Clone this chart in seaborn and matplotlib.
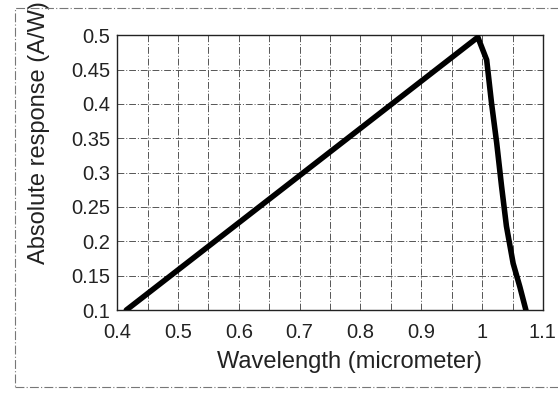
import numpy as np
import pandas as pd
import matplotlib
matplotlib.use("Agg")
import matplotlib.pyplot as plt
import seaborn as sns
from matplotlib.patches import Rectangle

# Values
wavelength = [0.415, 0.993, 1.0075, 1.0155, 1.024, 1.032, 1.040, 1.051, 1.062, 1.072]
response = [0.100, 0.497, 0.464, 0.401, 0.343, 0.280, 0.222, 0.168, 0.134, 0.100]

x_ticks = [0.4, 0.5, 0.6, 0.7, 0.8, 0.9, 1.0, 1.1]
x_tick_labels = ["0.4", "0.5", "0.6", "0.7", "0.8", "0.9", "1", "1.1"]
y_ticks = [0.1, 0.15, 0.2, 0.25, 0.3, 0.35, 0.4, 0.45, 0.5]
y_tick_labels = ["0.1", "0.15", "0.2", "0.25", "0.3", "0.35", "0.4", "0.45", "0.5"]

df = pd.DataFrame({"Wavelength": wavelength, "Response": response})

sns.set_style("white")
plt.rcParams['font.family'] = ['Liberation Sans', 'DejaVu Sans']

fig = plt.figure(figsize=(5.58, 3.95), dpi=100)
ax = fig.add_axes([0.21, 0.215, 0.763, 0.696])

sns.lineplot(data=df, x="Wavelength", y="Response", sort=False, color="black",
             linewidth=4, ax=ax, zorder=3)

ax.set_xlim(0.4, 1.1)
ax.set_ylim(0.1, 0.5)
ax.set_xticks(x_ticks)
ax.set_xticklabels(x_tick_labels)
ax.set_yticks(y_ticks)
ax.set_yticklabels(y_tick_labels)
ax.set_xticks(np.arange(0.45, 1.1, 0.1), minor=True)
ax.grid(True, which="both", color="#555555", linestyle=(0, (7, 2, 1, 2)), linewidth=0.7)
ax.tick_params(which="both", length=0, labelsize=14.5, colors="#222222")
ax.tick_params(axis="x", pad=9)
ax.tick_params(axis="y", pad=5)

for s in ax.spines.values():
    s.set_color("#222222")
    s.set_linewidth(1.0)

ax.set_xlabel("Wavelength (micrometer)", fontsize=17, color="#222222", va="center")
ax.set_ylabel("Absolute response (A/W)", fontsize=17, color="#222222", va="center")
ax.xaxis.set_label_coords(0.545, -0.189)
ax.yaxis.set_label_coords(-0.183, 0.644)

# thin frame around the whole figure
fig.patches.append(Rectangle((0.027, 0.02), 0.99, 0.96, transform=fig.transFigure,
                             fill=False, edgecolor="#777777", linewidth=0.8,
                             linestyle=(0, (8, 2, 1, 2))))

fig.savefig("out.png", dpi=100)
